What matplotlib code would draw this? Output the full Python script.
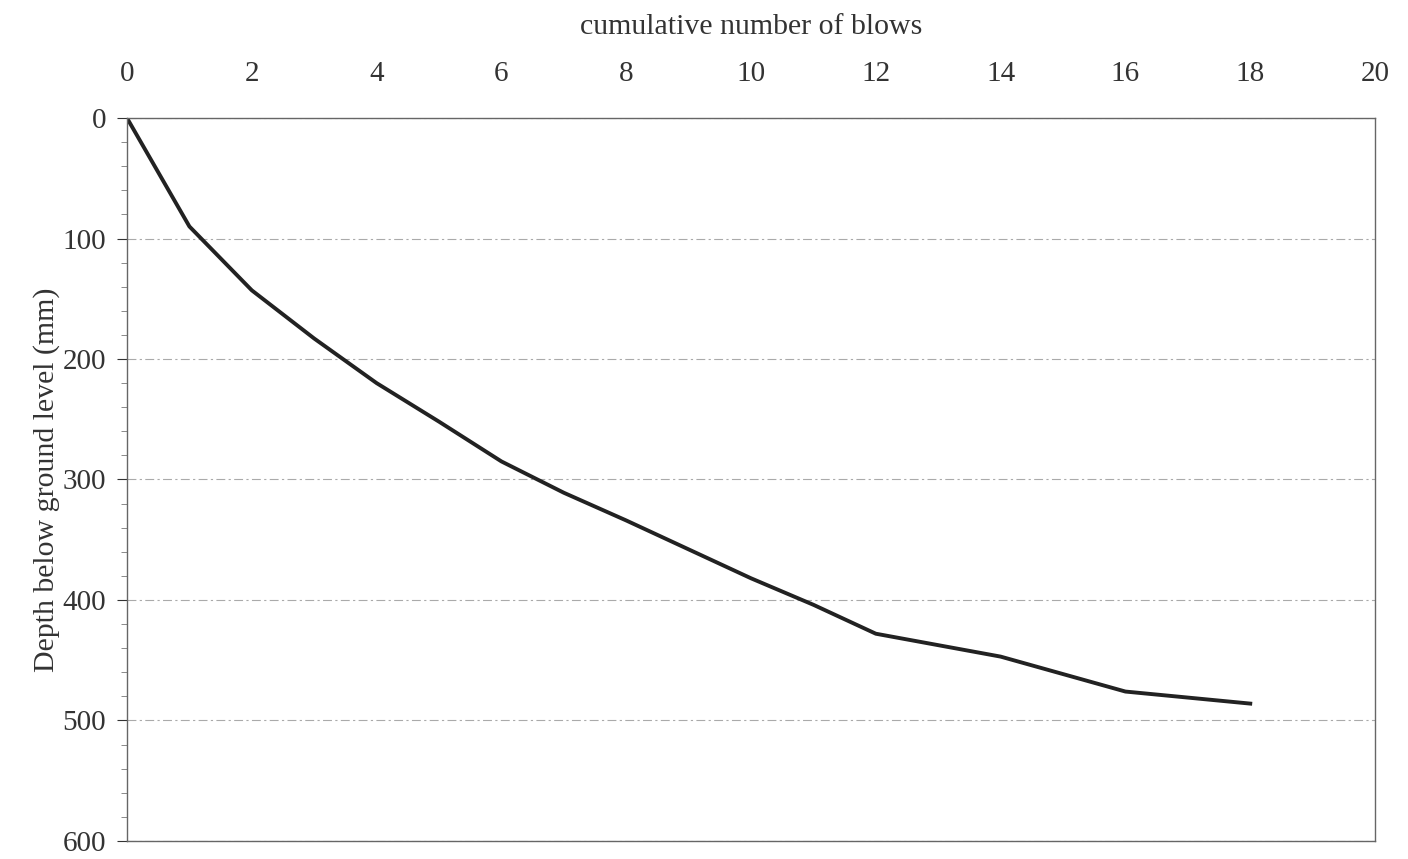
import matplotlib.pyplot as plt
from matplotlib.ticker import MultipleLocator

# Données (essai de pénétration)
coups = [0, 1, 2, 3, 4, 5, 6, 7, 8, 9, 10, 11, 12, 14, 16, 18]
profondeur = [0, 90, 143, 183, 220, 252, 285, 311, 334, 358, 382, 404, 428, 447, 476, 486]

plt.rcParams['font.family'] = ['Liberation Serif', 'DejaVu Serif']

fig = plt.figure(figsize=(14.08, 8.59), dpi=100)
ax = fig.add_axes([0.0902, 0.021, 0.8864, 0.8416])

ax.plot(coups, profondeur, color='#222222', linewidth=2.8, solid_joinstyle='round')

# Axe x en haut, axe y inversé
ax.set_xlim(0, 20)
ax.set_ylim(600, 0)
ax.xaxis.tick_top()
ax.xaxis.set_label_position('top')
ax.set_xticks(range(0, 21, 2))
ax.set_yticks(range(0, 601, 100))
ax.yaxis.set_minor_locator(MultipleLocator(20))

ax.tick_params(axis='x', length=0, labelsize=21, pad=22, colors='#333333')
ax.tick_params(axis='y', which='major', length=7, labelsize=21, colors='#333333', pad=8)
ax.tick_params(axis='y', which='minor', length=4, color='#777777')

ax.set_xlabel('cumulative number of blows', fontsize=21.5, labelpad=20, color='#333333')
ax.set_ylabel('Depth below ground level (mm)', fontsize=21.5, labelpad=2, color='#333333')

ax.grid(axis='y', which='major', color='#aaaaaa', linestyle=(0, (8, 3, 2, 3)), linewidth=0.8)
for s in ax.spines.values():
    s.set_color('#666666')
    s.set_linewidth(1.0)

fig.savefig('out.png', dpi=100)
